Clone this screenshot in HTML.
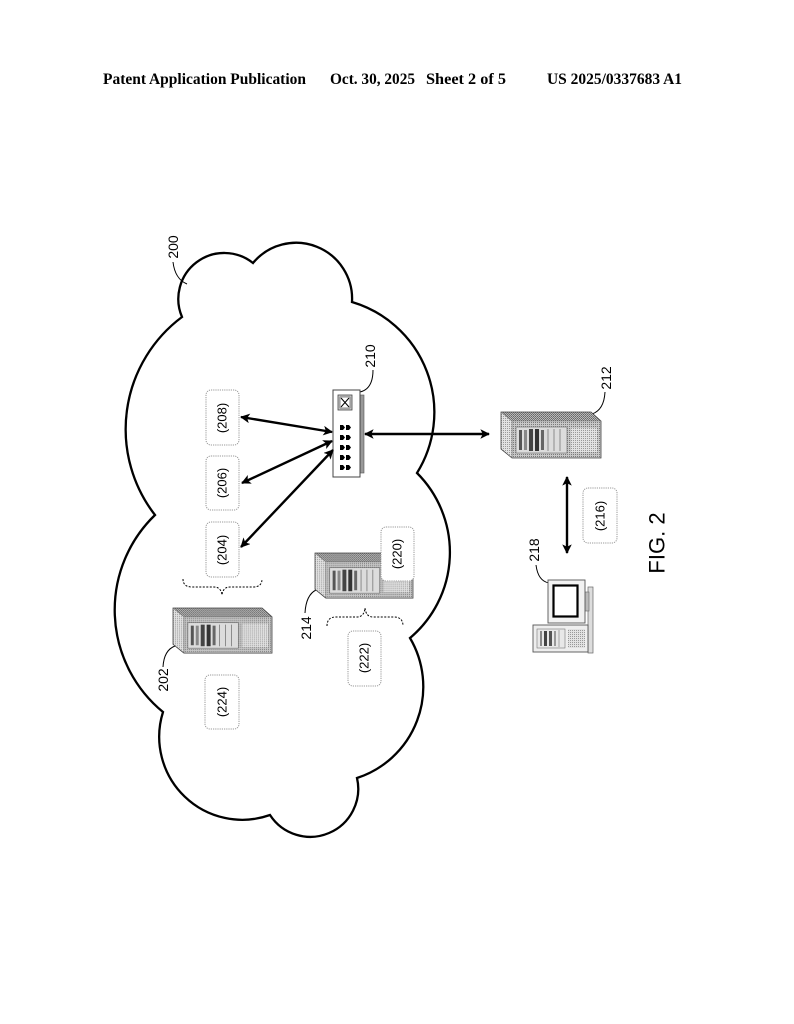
<!DOCTYPE html>
<html><head><meta charset="utf-8"><style>
html,body{margin:0;padding:0;background:#fff;}
svg{display:block;}
</style></head><body>
<svg width="794" height="1024" viewBox="0 0 794 1024" xmlns="http://www.w3.org/2000/svg">
<defs>
<marker id="ah" viewBox="0 0 10 10" refX="9" refY="5" markerWidth="4" markerHeight="4" orient="auto-start-reverse" markerUnits="strokeWidth">
<path d="M0,0 L10,5 L0,10 L2.5,5 Z" fill="#000"/>
</marker>
<pattern id="dd" width="2" height="2" patternUnits="userSpaceOnUse">
<rect width="2" height="2" fill="#b8b8b8"/><rect width="1" height="1" fill="#666"/><rect x="1" y="1" width="1" height="1" fill="#777"/>
</pattern>
<pattern id="dl" width="2" height="2" patternUnits="userSpaceOnUse">
<rect width="2" height="2" fill="#e2e2e2"/><rect width="1" height="1" fill="#999"/>
</pattern>
<pattern id="dm" width="2" height="2" patternUnits="userSpaceOnUse">
<rect width="2" height="2" fill="#c8c8c8"/><rect width="1" height="1" fill="#7a7a7a"/>
</pattern>
<g id="srv">
<polygon points="0,0 11,9 11,46 0,37" fill="url(#dl)"/>
<polygon points="0,0 90,0 100,9 11,9" fill="url(#dd)"/>
<rect x="11" y="9" width="89" height="37" fill="url(#dm)"/>
<rect x="15" y="15" width="51" height="26" fill="#dcdcdc" stroke="#777" stroke-width="0.7"/>
<rect x="18" y="18" width="3" height="20" fill="#555"/>
<rect x="23" y="18" width="3" height="20" fill="#888"/>
<rect x="28" y="17" width="4" height="22" fill="#444"/>
<rect x="34" y="17" width="4" height="22" fill="#333"/>
<rect x="40" y="18" width="3" height="20" fill="#666"/>
<line x1="47" y1="17" x2="47" y2="39" stroke="#777" stroke-width="0.8"/>
<line x1="53" y1="17" x2="53" y2="39" stroke="#777" stroke-width="0.8"/>
<line x1="59" y1="17" x2="59" y2="39" stroke="#777" stroke-width="0.8"/>
<rect x="70" y="16" width="26" height="24" fill="url(#dl)"/>
<polygon points="0,0 90,0 100,9 100,46 11,46 0,37" fill="none" stroke="#444" stroke-width="0.8"/>
<line x1="0" y1="0" x2="11" y2="9" stroke="#777" stroke-width="0.6"/>
<line x1="11" y1="9" x2="100" y2="9" stroke="#777" stroke-width="0.6"/>
<line x1="11" y1="9" x2="11" y2="46" stroke="#777" stroke-width="0.6"/>
</g>
</defs>

<!-- Header -->
<g font-family="'Liberation Serif', serif" font-weight="bold" font-size="15.5" fill="#000">
<text x="103" y="84" textLength="203" lengthAdjust="spacingAndGlyphs">Patent Application Publication</text>
<text x="330" y="84" textLength="85" lengthAdjust="spacingAndGlyphs">Oct. 30, 2025</text>
<text x="426" y="84" textLength="80" lengthAdjust="spacingAndGlyphs">Sheet 2 of 5</text>
<text x="547" y="84" textLength="135" lengthAdjust="spacingAndGlyphs">US 2025/0337683 A1</text>
</g>

<!-- Cloud -->
<path d="M182,317 A46 46 0 0 1 253,263 A56 56 0 0 1 352,302 A115 115 0 0 1 417,473 A112 112 0 0 1 410,638 A96 96 0 0 1 357,778 A48 48 0 0 1 270,815 A83 83 0 0 1 163,712 A132 132 0 0 1 155,515 A140 140 0 0 1 182,317 Z" fill="none" stroke="#000" stroke-width="2.3" stroke-linejoin="miter"/>

<!-- Leader lines -->
<g fill="none" stroke="#000" stroke-width="1">
<path d="M173,262 Q175,279 187,284"/>
<path d="M373,370 Q373,389 360,392"/>
<path d="M605,392 Q604,410 592,414"/>
<path d="M536,565 Q538,581 549,583"/>
<path d="M163,667 Q164,650 175,646"/>
<path d="M305,613 Q306,595 316,590"/>
</g>

<!-- Reference numerals -->
<g font-family="'Liberation Sans', sans-serif" font-size="14" fill="#000" text-anchor="middle" dominant-baseline="central">
<text transform="translate(173,247) rotate(-90)">200</text>
<text transform="translate(370,356) rotate(-90)">210</text>
<text transform="translate(606,378) rotate(-90)">212</text>
<text transform="translate(534,550) rotate(-90)">218</text>
<text transform="translate(163,680) rotate(-90)">202</text>
<text transform="translate(306,628) rotate(-90)">214</text>
</g>

<!-- Servers -->
<use href="#srv" transform="translate(501,412)"/>
<use href="#srv" transform="translate(173,608) scale(0.99,0.98)"/>
<use href="#srv" transform="translate(315,553) scale(0.98,0.98)"/>

<!-- Label boxes -->
<g fill="#fff" stroke="#999" stroke-width="1" stroke-dasharray="1.2,1">
<rect x="206" y="390" width="33" height="55" rx="5"/>
<rect x="206" y="456" width="33" height="54" rx="5"/>
<rect x="206" y="522" width="33" height="55" rx="5"/>
<rect x="205" y="675" width="34" height="54" rx="5"/>
<rect x="348" y="631" width="33" height="55" rx="5"/>
<rect x="381" y="527" width="33" height="54" rx="5"/>
<rect x="583" y="488" width="34" height="55" rx="5"/>
</g>
<g font-family="'Liberation Sans', sans-serif" font-size="13" fill="#000" text-anchor="middle" dominant-baseline="central">
<text transform="translate(222,418) rotate(-90)">(208)</text>
<text transform="translate(222,483) rotate(-90)">(206)</text>
<text transform="translate(222,550) rotate(-90)">(204)</text>
<text transform="translate(222,702) rotate(-90)">(224)</text>
<text transform="translate(364,658) rotate(-90)">(222)</text>
<text transform="translate(397,554) rotate(-90)">(220)</text>
<text transform="translate(600,516) rotate(-90)">(216)</text>
</g>

<!-- Braces -->
<g fill="none" stroke="#000" stroke-width="1" stroke-dasharray="2,1.5">
<path d="M183,579 Q183,587 192,587 L214,587 Q221,587 222,595 Q223,587 230,587 L253,587 Q262,587 262,579"/>
<path d="M327,626 Q327,617 336,617 L357,617 Q364,617 365,608 Q366,617 373,617 L394,617 Q403,617 403,626"/>
</g>

<!-- Switch 210 -->
<rect x="360" y="395" width="4" height="78" fill="#999" stroke="#555" stroke-width="0.6"/>
<rect x="333" y="390" width="27" height="87" fill="#fff" stroke="#444" stroke-width="1"/>
<rect x="338" y="395" width="14" height="15" fill="#ccc" stroke="#444" stroke-width="0.8"/>
<rect x="340" y="397" width="10" height="11" fill="#fff" stroke="#444" stroke-width="0.6"/>
<path d="M341,398 L349,407 M349,398 L341,407" stroke="#000" stroke-width="1"/>
<g fill="#000">
<polygon points="340,425 343,425 345,427.5 343,430 340,430"/>
<polygon points="346,425 349,425 351,427.5 349,430 346,430"/>
<polygon points="340,435 343,435 345,437.5 343,440 340,440"/>
<polygon points="346,435 349,435 351,437.5 349,440 346,440"/>
<polygon points="340,445 343,445 345,447.5 343,450 340,450"/>
<polygon points="346,445 349,445 351,447.5 349,450 346,450"/>
<polygon points="340,455 343,455 345,457.5 343,460 340,460"/>
<polygon points="346,455 349,455 351,457.5 349,460 346,460"/>
<polygon points="340,465 343,465 345,467.5 343,470 340,470"/>
<polygon points="346,465 349,465 351,467.5 349,470 346,470"/>
</g>

<!-- Arrows -->
<g stroke="#000" stroke-width="2.4" fill="none">
<line x1="241" y1="417" x2="332" y2="432" marker-start="url(#ah)" marker-end="url(#ah)"/>
<line x1="242" y1="483" x2="332" y2="441" marker-start="url(#ah)" marker-end="url(#ah)"/>
<line x1="241" y1="547" x2="333" y2="450" marker-start="url(#ah)" marker-end="url(#ah)"/>
<line x1="365" y1="434" x2="489" y2="434" marker-start="url(#ah)" marker-end="url(#ah)"/>
<line x1="567" y1="477" x2="567" y2="553" marker-start="url(#ah)" marker-end="url(#ah)"/>
</g>

<!-- Computer 218 -->
<rect x="588" y="587" width="5" height="66" fill="#ddd" stroke="#666" stroke-width="0.7"/>
<rect x="584" y="592" width="5" height="19" fill="#bbb" stroke="#666" stroke-width="0.6"/>
<rect x="548" y="580" width="37" height="43" fill="#f2f2f2" stroke="#555" stroke-width="0.9"/>
<rect x="553.5" y="585.5" width="24" height="31" fill="#fff" stroke="#000" stroke-width="2.2"/>
<rect x="533" y="625" width="55" height="27" fill="#eee" stroke="#555" stroke-width="0.9"/>
<rect x="537" y="629" width="28" height="19" fill="#e8e8e8" stroke="#777" stroke-width="0.6"/>
<rect x="540" y="631" width="2" height="15" fill="#888"/>
<rect x="544" y="631" width="3" height="15" fill="#444"/>
<rect x="549" y="631" width="3" height="15" fill="#555"/>
<rect x="554" y="631" width="2" height="15" fill="#999"/>
<line x1="559" y1="630" x2="559" y2="647" stroke="#888" stroke-width="0.7"/>
<rect x="568" y="629" width="17" height="19" fill="url(#dl)"/>

<!-- FIG. 2 -->
<text transform="translate(657,543) rotate(-90)" font-family="'Liberation Sans', sans-serif" font-size="22" text-anchor="middle" dominant-baseline="central" fill="#000">FIG. 2</text>
</svg>
</body></html>
